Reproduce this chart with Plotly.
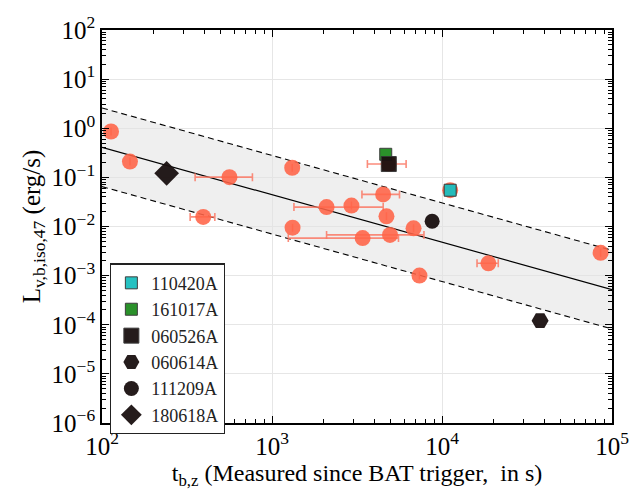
import numpy as np
import plotly.graph_objects as go

# ---------------- data ----------------
# salmon sample (t_b,z in s, L in 1e47 erg/s), with optional x-error bounds
t_sample = [113, 146, 562, 394, 1315, 1321, 2094, 2933, 4505, 4713, 3414, 4945,
            6801, 7368, 18750, 85700, 4864, 11170]
L_sample = [0.86, 0.210, 0.101, 0.0157, 0.157, 0.00946, 0.0248, 0.0267, 0.045,
            0.0161, 0.0058, 0.00674, 0.00917, 0.0010, 0.00178, 0.00291, 0.187, 0.0548]
t_lo = [None, None, 353, 330, None, None, 1346, None, 3381, None, 1247, 2094,
        None, None, 16070, None, 3640, None]
t_hi = [None, None, 767, 461, None, None, 4510, None, 5623, None, 5546, 7832,
        None, None, 21430, None, 6150, None]

# highlighted GRBs
grb_names = ["110420A", "161017A", "060526A", "060614A", "111209A", "180618A"]
grb_t = [11170, 4667, 4864, 37760, 8750, 240]
grb_L = [0.0548, 0.295, 0.187, 1.21e-4, 0.0128, 0.121]
grb_color = ["#1bbfbf", "#1f8c1f", "#1a1010", "#1a1010", "#1a1010", "#1a1010"]
grb_symbol = ["square", "square", "square", "hexagon2", "circle", "diamond"]
grb_size = [12, 12, 15, 17, 15, 19]

# fit line: L(100 s) and power-law slope, scatter band in dex
fit_L100 = 0.41
fit_slope = -0.966
band_dex = 0.8
t_range = [100, 1e5]

x_ticks = [1e2, 1e3, 1e4, 1e5]
x_ticklabels = ["10<sup>2</sup>", "10<sup>3</sup>", "10<sup>4</sup>", "10<sup>5</sup>"]
y_exps = [2, 1, 0, -1, -2, -3, -4, -5, -6]

# ---------------- figure ----------------
FONT = "Liberation Serif"
fig = go.Figure()

tt = np.array(t_range, dtype=float)
Lfit = fit_L100 * (tt / 100.0) ** fit_slope
Lup = Lfit * 10 ** band_dex
Llo = Lfit * 10 ** (-band_dex)

fig.add_trace(go.Scatter(x=tt, y=Llo, mode="lines", line=dict(color="black", width=1.1, dash="6px,4px"),
                         showlegend=False, hoverinfo="skip"))
fig.add_trace(go.Scatter(x=tt, y=Lup, mode="lines", line=dict(color="black", width=1.1, dash="6px,4px"),
                         fill="tonexty", fillcolor="rgba(225,225,225,0.55)",
                         showlegend=False, hoverinfo="skip"))
fig.add_trace(go.Scatter(x=tt, y=Lfit, mode="lines", line=dict(color="black", width=1.2),
                         showlegend=False, hoverinfo="skip"))

err_plus = [None if h is None else h - t for t, h in zip(t_sample, t_hi)]
err_minus = [None if l is None else t - l for t, l in zip(t_sample, t_lo)]
fig.add_trace(go.Scatter(
    x=t_sample, y=L_sample, mode="markers",
    marker=dict(symbol="circle", size=16, color="rgba(255,99,71,0.88)", line=dict(width=0)),
    error_x=dict(type="data", symmetric=False, array=err_plus, arrayminus=err_minus,
                 color="rgba(250,120,100,0.85)", thickness=1.6, width=4),
    showlegend=False))

for n, t, L, c, s, sz in zip(grb_names, grb_t, grb_L, grb_color, grb_symbol, grb_size):
    fig.add_trace(go.Scatter(
        x=[t], y=[L], mode="markers", name=n,
        marker=dict(symbol=s, size=sz, color=c,
                    line=dict(width=1 if s == "square" else 0, color="#333333")),
        opacity=0.95))

axis_common = dict(
    type="log", showline=True, linecolor="black", linewidth=1.6, mirror="allticks",
    ticks="inside", ticklen=7, tickwidth=1.4, tickcolor="black",
    showgrid=True, gridcolor="#e6e6e6", gridwidth=1, zeroline=False,
    tickfont=dict(family=FONT, size=25, color="black"),
    minor=dict(ticks="inside", ticklen=4, tickwidth=1.2, tickcolor="black",
               showgrid=False, dtick="D1"),
)

fig.update_xaxes(**axis_common, range=[2, 5], tickvals=x_ticks, ticktext=x_ticklabels,
                 title=dict(text="t<sub>b,z</sub> (Measured since BAT trigger,  in s)",
                            font=dict(family=FONT, size=24, color="black"), standoff=2))
fig.update_yaxes(**axis_common, range=[-6, 2], tickvals=[10.0 ** e for e in y_exps],
                 ticktext=["10<sup>%s</sup>" % (str(e).replace("-", "−")) for e in y_exps],
                 title=dict(text="L<sub>v,b,iso,47</sub> (erg/s)",
                            font=dict(family=FONT, size=25, color="black"), standoff=4))

fig.update_layout(
    width=641, height=494,
    margin=dict(l=102, r=19, t=21, b=71),
    plot_bgcolor="white", paper_bgcolor="white",
    legend=dict(x=0.016, y=0.406, xanchor="left", yanchor="top",
                bgcolor="white", bordercolor="#222222", borderwidth=1.2,
                font=dict(family=FONT, size=18, color="#222222"),
                itemsizing="trace", tracegroupgap=0, traceorder="normal"),
)

fig.write_html("out.html")
